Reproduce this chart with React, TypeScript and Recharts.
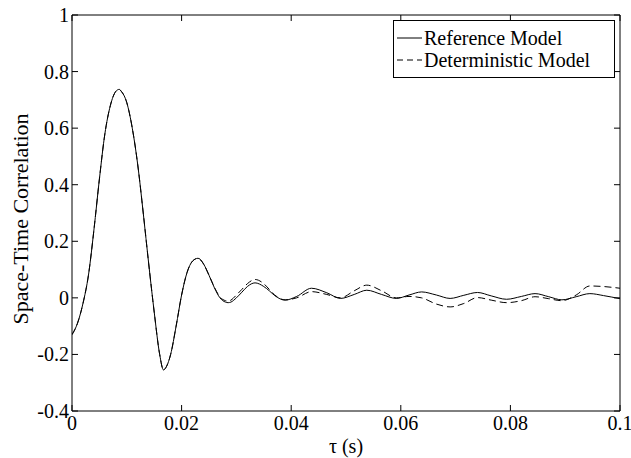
import { LineChart, Line, XAxis, YAxis } from 'recharts'

// tau (s) sample points
const TAU = [
  0, 0.001, 0.002, 0.003, 0.004, 0.005, 0.006, 0.007, 0.008, 0.0086, 0.009,
  0.01, 0.011, 0.012, 0.013, 0.014, 0.015, 0.016, 0.0167, 0.017, 0.018, 0.019,
  0.02, 0.021, 0.022, 0.023, 0.024, 0.025, 0.026, 0.027, 0.028, 0.0285, 0.029,
  0.03, 0.031, 0.032, 0.0334, 0.035, 0.036, 0.037, 0.0389, 0.041, 0.0437, 0.0465,
  0.049, 0.0515, 0.0538, 0.0565, 0.0592, 0.0615, 0.0638, 0.0665, 0.069, 0.0715,
  0.074, 0.0765, 0.0793, 0.082, 0.0845, 0.087, 0.0894, 0.092, 0.0945, 0.097, 0.1,
]

const REFERENCE = [
  -0.13, -0.09, -0.02, 0.08, 0.24, 0.42, 0.58, 0.68, 0.73, 0.737, 0.73,
  0.69, 0.6, 0.47, 0.3, 0.12, -0.05, -0.2, -0.255, -0.25, -0.2, -0.1,
  0.01, 0.09, 0.13, 0.14, 0.12, 0.08, 0.035, 0.0, -0.015, -0.017, -0.015,
  0.0, 0.02, 0.04, 0.053, 0.04, 0.025, 0.008, -0.008, 0.005, 0.034, 0.018,
  -0.002, 0.012, 0.027, 0.012, -0.002, 0.01, 0.021, 0.01, -0.002, 0.009,
  0.019, 0.007, -0.005, 0.005, 0.015, 0.004, -0.007, 0.004, 0.015, 0.008, -0.003,
]

const DETERMINISTIC = [
  -0.13, -0.09, -0.02, 0.08, 0.24, 0.42, 0.58, 0.68, 0.73, 0.737, 0.73,
  0.69, 0.6, 0.47, 0.3, 0.12, -0.05, -0.2, -0.255, -0.25, -0.2, -0.1,
  0.01, 0.09, 0.13, 0.14, 0.12, 0.08, 0.037, 0.003, -0.01, -0.012, -0.008,
  0.01, 0.03, 0.05, 0.065, 0.05, 0.03, 0.01, -0.007, 0.0, 0.022, 0.012,
  0.0, 0.025, 0.045, 0.025, 0.0, 0.005, 0.0, -0.022, -0.032, -0.02,
  0.001, -0.008, -0.017, -0.01, 0.004, -0.003, -0.01, 0.01, 0.042, 0.04, 0.034,
]

const X_TICKS = [0, 0.02, 0.04, 0.06, 0.08, 0.1]
const Y_TICKS = [-0.4, -0.2, 0, 0.2, 0.4, 0.6, 0.8, 1]

const data = TAU.map((t, i) => ({ tau: t, ref: REFERENCE[i], det: DETERMINISTIC[i] }))

const FONT = '"Liberation Serif", "Times New Roman", serif'
const TICK = 6

function BottomTick({ x, y, payload }: any) {
  return (
    <g>
      <line x1={x} y1={y} x2={x} y2={y - TICK} stroke="#000" />
      <text x={x} y={y + 19} textAnchor="middle" fontSize={20} fontFamily={FONT} fill="#000">
        {String(payload.value)}
      </text>
    </g>
  )
}

function TopTick({ x, y }: any) {
  return <line x1={x} y1={y} x2={x} y2={y + TICK} stroke="#000" />
}

function LeftTick({ x, y, payload }: any) {
  return (
    <g>
      <line x1={x} y1={y} x2={x + TICK} y2={y} stroke="#000" />
      <text x={x - 3} y={y} dy="0.35em" textAnchor="end" fontSize={20} fontFamily={FONT} fill="#000">
        {String(payload.value)}
      </text>
    </g>
  )
}

function RightTick({ x, y }: any) {
  return <line x1={x} y1={y} x2={x - TICK} y2={y} stroke="#000" />
}

function YLabel({ viewBox }: any) {
  const cy = viewBox.y + viewBox.height / 2 + 6
  return (
    <text x={28} y={cy} transform={`rotate(-90 28 ${cy})`} textAnchor="middle" fontSize={22} fontFamily={FONT} fill="#000">
      Space-Time Correlation
    </text>
  )
}

function LegendBox() {
  const rows = [
    { label: 'Reference Model', dash: undefined },
    { label: 'Deterministic Model', dash: '6 4' },
  ]
  return (
    <div style={{
      position: 'absolute', left: 393, top: 20, width: 222, height: 58,
      border: '1px solid #000', background: '#fff', boxSizing: 'border-box',
      fontFamily: FONT, fontSize: 20, color: '#000', paddingTop: 6,
    }}>
      {rows.map(r => (
        <div key={r.label} style={{ display: 'flex', alignItems: 'center', height: 22, lineHeight: '22px' }}>
          <svg width={27} height={10} style={{ marginLeft: 3 }}>
            <line x1={0} y1={5} x2={25} y2={5} stroke="#000" strokeDasharray={r.dash} />
          </svg>
          <span>{r.label}</span>
        </div>
      ))}
    </div>
  )
}

export default function App() {
  return (
    <div style={{ position: 'absolute', left: 0, top: 0, width: 631, height: 458, background: '#fff' }}>
      <LineChart width={631} height={458} data={data} margin={{ top: 14, right: 10, bottom: 0, left: 0 }}>
        <XAxis
          dataKey="tau" type="number" domain={[0, 0.1]} ticks={X_TICKS} allowDataOverflow
          height={47} tickSize={0} tickMargin={0} tick={<BottomTick />}
          axisLine={{ stroke: '#000' }}
          label={{ value: 'τ (s)', position: 'insideBottom', offset: 5, fontSize: 20, fontFamily: FONT, fill: '#000' }}
        />
        <XAxis
          xAxisId="top" orientation="top" dataKey="tau" type="number" domain={[0, 0.1]} ticks={X_TICKS}
          allowDataOverflow height={1} tickSize={0} tickMargin={0} tick={<TopTick />}
          axisLine={{ stroke: '#000' }}
        />
        <YAxis
          type="number" domain={[-0.4, 1]} ticks={Y_TICKS} allowDataOverflow width={72}
          tickSize={0} tickMargin={0} tick={<LeftTick />} axisLine={{ stroke: '#000' }}
          label={<YLabel />}
        />
        <YAxis
          yAxisId="right" orientation="right" type="number" domain={[-0.4, 1]} ticks={Y_TICKS}
          allowDataOverflow width={1} tickSize={0} tickMargin={0} tick={<RightTick />}
          axisLine={{ stroke: '#000' }}
        />
        <Line dataKey="det" type="monotone" stroke="#000" strokeWidth={1} strokeDasharray="7 4" dot={false} isAnimationActive={false} />
        <Line dataKey="ref" type="monotone" stroke="#000" strokeWidth={1} dot={false} isAnimationActive={false} />
      </LineChart>
      <LegendBox />
    </div>
  )
}
